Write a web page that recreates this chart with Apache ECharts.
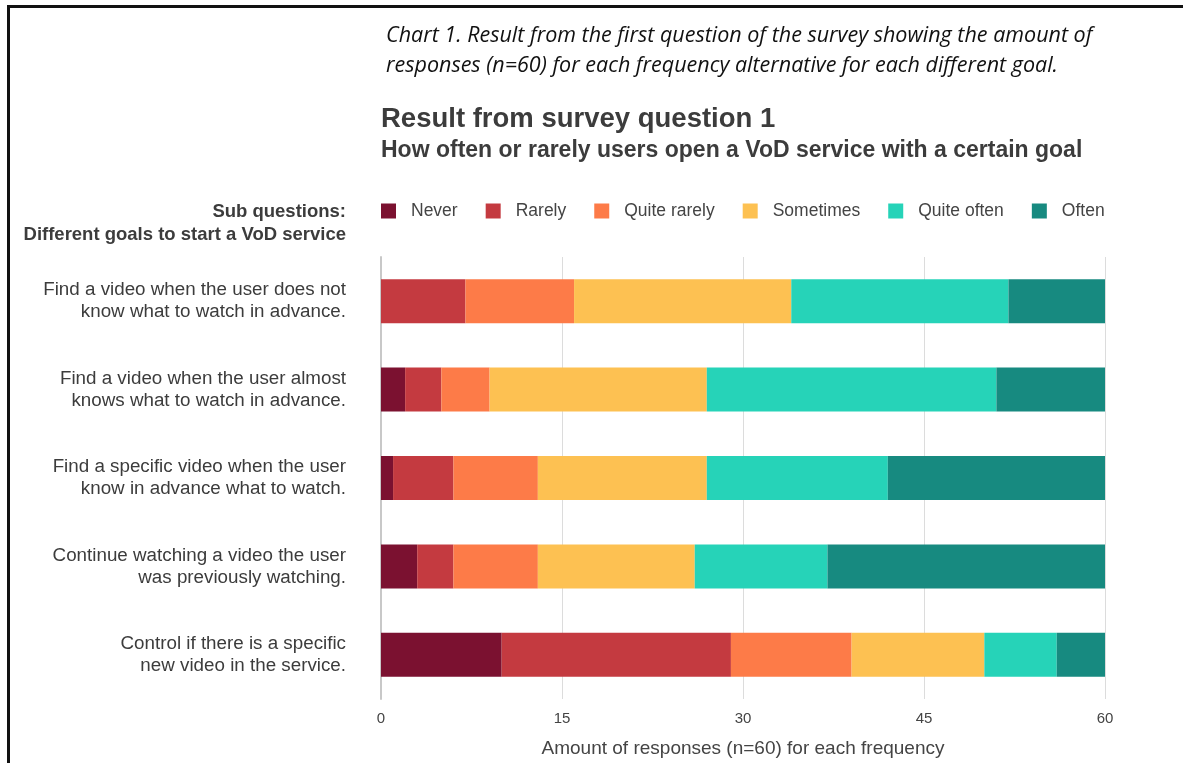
<!DOCTYPE html>
<html><head><meta charset="utf-8">
<script src="https://cdn.jsdelivr.net/npm/echarts@6/dist/echarts.min.js"></script>
<style>html,body{margin:0;padding:0;background:#fff}#c{width:1183px;height:763px}</style>
</head><body><div id="c"></div>
<script>
const categories = [
  "Find a video when the user does not\nknow what to watch in advance.",
  "Find a video when the user almost\nknows what to watch in advance.",
  "Find a specific video when the user\nknow in advance what to watch.",
  "Continue watching a video the user\nwas previously watching.",
  "Control if there is a specific\nnew video in the service."
];
const seriesNames = ["Never", "Rarely", "Quite rarely", "Sometimes", "Quite often", "Often"];
const never = [0, 2, 1, 3, 10];
const rarely = [7, 3, 5, 3, 19];
const quiteRarely = [9, 4, 7, 7, 10];
const sometimes = [18, 18, 14, 13, 11];
const quiteOften = [18, 24, 15, 11, 6];
const often = [8, 9, 18, 23, 4];
const xTicks = [0, 15, 30, 45, 60];
const colors = ["#7b1130", "#c43a40", "#fd7b48", "#fdc152", "#26d3b8", "#178a80"];

const values = [never, rarely, quiteRarely, sometimes, quiteOften, often];
const font = "'Liberation Sans', Arial, Helvetica, sans-serif";
const chart = echarts.init(document.getElementById('c'));
chart.setOption({
  animation: false,
  color: colors,
  title: [
    { text: "Chart 1. Result from the first question of the survey showing the amount of\nresponses (n=60) for each frequency alternative for each different goal.",
      left: 381, top: 16,
      textStyle: { fontFamily: "'Open Sans', sans-serif", fontStyle: "italic", fontWeight: "normal", fontSize: 21.5, color: "#111", lineHeight: 30 } },
    { text: "Result from survey question 1", left: 376, top: 100,
      textStyle: { fontFamily: font, fontWeight: "bold", fontSize: 27.5, color: "#3c3c3c" } },
    { text: "How often or rarely users open a VoD service with a certain goal", left: 376, top: 134,
      textStyle: { fontFamily: font, fontWeight: "bold", fontSize: 23, color: "#3c3c3c" } }
  ],
  legend: {
    left: 376, top: 197,
    itemWidth: 15, itemHeight: 15, itemGap: 28,
    icon: "rect",
    textStyle: { fontFamily: font, fontSize: 17.5, color: "#444", padding: [0, 0, 0, 10] },
    data: seriesNames
  },
  grid: { left: 381, right: 1183 - 1105, top: 257, bottom: 763 - 700, containLabel: false },
  xAxis: {
    type: "value", min: 0, max: 60, interval: 15,
    axisLine: { show: false }, axisTick: { show: false },
    splitLine: { lineStyle: { color: "#dcdcdc", width: 1 } },
    axisLabel: { fontFamily: font, fontSize: 15, color: "#444", margin: 12,
      formatter: v => xTicks.includes(v) ? String(v) : "" },
    name: "Amount of responses (n=60) for each frequency",
    nameLocation: "middle", nameGap: 40,
    nameTextStyle: { fontFamily: font, fontSize: 19, color: "#444" }
  },
  yAxis: {
    type: "category", data: categories, inverse: true,
    axisLine: { show: true, lineStyle: { color: "#c8c8c8", width: 2 } },
    axisTick: { show: false },
    axisLabel: { fontFamily: font, fontSize: 18.8, color: "#3c3c3c", lineHeight: 22, margin: 35, align: "right" }
  },
  series: seriesNames.map((n, i) => ({
    name: n, type: "bar", stack: "total", barWidth: 44,
    data: values[i],
    itemStyle: { color: colors[i] }
  })),
  graphic: [
    { type: "rect", shape: { x: 7, y: 5, width: 1176, height: 3 }, style: { fill: "#111" }, silent: true },
    { type: "rect", shape: { x: 7, y: 5, width: 3, height: 758 }, style: { fill: "#111" }, silent: true },
    { type: "text", x: 346, y: 200, silent: true,
      style: { text: "Sub questions:\nDifferent goals to start a VoD service", align: "right",
        font: "bold 18.5px " + font, fill: "#3c3c3c", lineHeight: 23 } }
  ]
});
</script></body></html>
